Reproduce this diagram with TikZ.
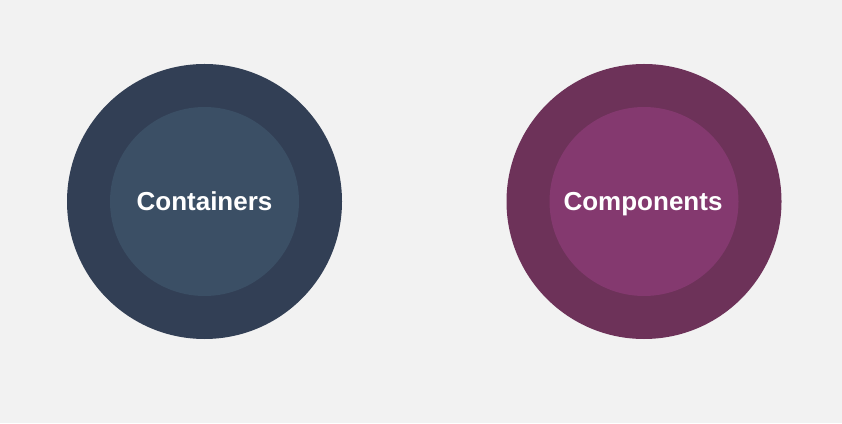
\documentclass[tikz,border=0pt]{standalone}
\usepackage{fontspec}
\setmainfont{Liberation Sans}
\definecolor{bgcol}{HTML}{F2F2F2}
\definecolor{navyout}{HTML}{323F55}
\definecolor{navyin}{HTML}{3B4F65}
\definecolor{plumout}{HTML}{6D3259}
\definecolor{plumin}{HTML}{84396F}
\tikzset{
  ring/.style={circle, minimum size=275pt, inner sep=0pt, draw=none},
  core/.style={circle, minimum size=189pt, inner sep=0pt, draw=none},
  label/.style={text=white, font=\fontsize{26}{31}\selectfont\bfseries, anchor=base}
}
\begin{document}
\begin{tikzpicture}[x=1pt,y=1pt]
  % canvas
  \fill[bgcol] (0,0) rectangle (842,423);
  \useasboundingbox (0,0) rectangle (842,423);
  % containers disc
  \node[ring, fill=navyout] (contOuter) at (204.5,221.5) {};
  \node[core, fill=navyin] (contInner) at (contOuter.center) {};
  \node[label] (contText) at (204.5,212) {Containers};
  % components disc
  \node[ring, fill=plumout] (compOuter) at (644,221.5) {};
  \node[core, fill=plumin] (compInner) at (compOuter.center) {};
  \node[label] (compText) at (643,212) {Components};
\end{tikzpicture}
\end{document}
